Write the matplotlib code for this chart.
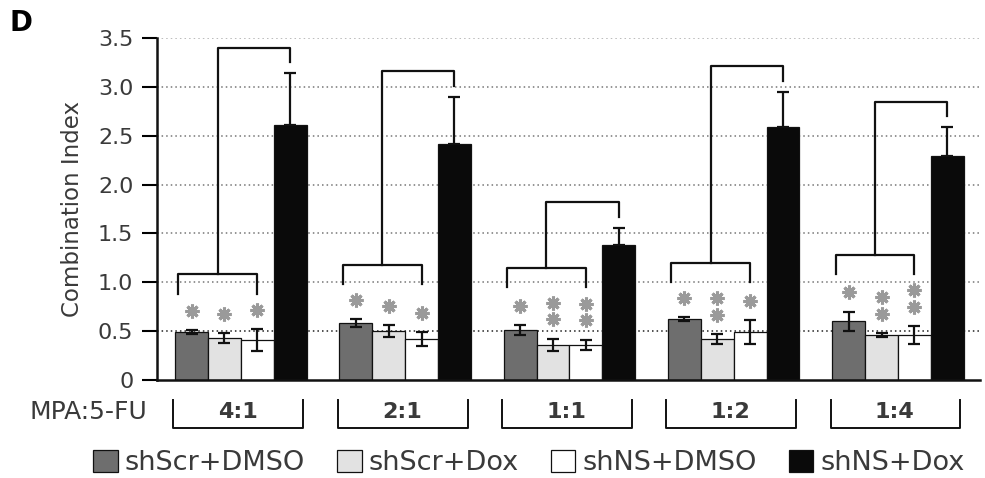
import numpy as np
import matplotlib.pyplot as plt
from matplotlib.patches import Patch

# ─────────────────────────────────────────────
# Data (Combination Index, mean ± error)
# ─────────────────────────────────────────────
ratios = ["4:1", "2:1", "1:1", "1:2", "1:4"]
series = ["shScr+DMSO", "shScr+Dox", "shNS+DMSO", "shNS+Dox"]

scr_dmso = [0.49, 0.58, 0.51, 0.62, 0.60]
scr_dmso_err = [0.02, 0.04, 0.05, 0.02, 0.10]
scr_dox = [0.43, 0.50, 0.36, 0.42, 0.46]
scr_dox_err = [0.05, 0.06, 0.06, 0.05, 0.02]
ns_dmso = [0.41, 0.42, 0.36, 0.49, 0.46]
ns_dmso_err = [0.11, 0.07, 0.05, 0.12, 0.09]
ns_dox = [2.61, 2.42, 1.38, 2.59, 2.29]
ns_dox_err = [0.53, 0.48, 0.18, 0.36, 0.30]

# number of significance stars above the three low bars of each group
stars_scr_dmso = [1, 1, 1, 1, 1]
stars_scr_dox = [1, 1, 2, 2, 2]
stars_ns_dmso = [1, 1, 2, 1, 2]

yticks = [0, 0.5, 1.0, 1.5, 2.0, 2.5, 3.0, 3.5]
ytick_labels = ["0", "0.5", "1.0", "1.5", "2.0", "2.5", "3.0", "3.5"]

colors = ["#6e6e6e", "#e2e2e2", "white", "#0a0a0a"]
txt = "#3a3a3a"

fig = plt.figure(figsize=(9.85, 4.78), dpi=100)
ax = fig.add_axes([0.1594, 0.205, 0.8356, 0.7155])

values = [scr_dmso, scr_dox, ns_dmso, ns_dox]
errors = [scr_dmso_err, scr_dox_err, ns_dmso_err, ns_dox_err]
stars = [stars_scr_dmso, stars_scr_dox, stars_ns_dmso]
groups = np.arange(len(ratios)) * 5

# grid first so it sits behind the bars
for yt in yticks[1:]:
    c = "#aaaaaa" if yt == 3.5 else ("#222222" if yt == 0.5 else "#777777")
    ax.axhline(yt, color=c, lw=1.1, ls=(0, (1, 2)), zorder=0)

for j, (vals, errs) in enumerate(zip(values, errors)):
    x = groups + j
    ax.bar(x, vals, width=1.0, color=colors[j], edgecolor="#111111",
           linewidth=0.9, zorder=2)
    if j == 3:
        yerr = [np.zeros(len(errs)), errs]
    else:
        yerr = errs
    ax.errorbar(x, vals, yerr=yerr, fmt="none", ecolor="#111111",
                elinewidth=1.6, capsize=4.5, capthick=1.6, zorder=3)

# significance stars
for j in range(3):
    for i in range(len(ratios)):
        base = values[j][i] + errors[j][i] + 0.2
        for k in range(stars[j][i]):
            ax.plot(groups[i] + j, base + 0.17 * k, marker=(8, 2, 0), ms=10,
                    mew=2.2, color="#9a9a9a", zorder=4)

# comparison brackets
for i, g in enumerate(groups):
    top_star = max(values[j][i] + errors[j][i] + 0.2 + 0.17 * (stars[j][i] - 1)
                   for j in range(3))
    low = top_star + 0.36
    high = ns_dox[i] + ns_dox_err[i] + 0.26
    lx0, lx1, mid = g - 0.4, g + 2.0, g + 0.8
    ax.plot([lx0, lx0, lx1, lx1], [low - 0.2, low, low, low - 0.2],
            color="#111111", lw=1.6, zorder=4)
    ax.plot([mid, mid, g + 3, g + 3], [low, high, high, high - 0.15],
            color="#111111", lw=1.6, zorder=4)

# MPA:5-FU ratio labels with brackets under the axis
for i, g in enumerate(groups):
    bx0, bx1 = g - 0.55, g + 3.4
    ax.plot([bx0, bx0, bx1, bx1], [-0.2, -0.49, -0.49, -0.2],
            color="#111111", lw=1.4, clip_on=False)
    ax.text(g + 1.4, -0.33, ratios[i], ha="center", va="center",
            fontsize=16, fontweight="bold", color=txt)
ax.text(-1.35, -0.33, "MPA:5-FU", ha="right", va="center", fontsize=18,
        color=txt)

ax.set_xlim(-1.05, 24.0)
ax.set_ylim(0, 3.5)
ax.set_xticks([])
ax.set_yticks(yticks)
ax.set_yticklabels(ytick_labels, fontsize=16, color=txt)
ax.tick_params(axis="y", length=11, width=1.5, pad=6, direction="out")
ax.set_ylabel("Combination Index", fontsize=16.5, color=txt, labelpad=10)
for s in ["top", "right"]:
    ax.spines[s].set_visible(False)
for s in ["left", "bottom"]:
    ax.spines[s].set_linewidth(1.8)
    ax.spines[s].set_color("#111111")

fig.text(0.021, 0.952, "D", fontsize=20, fontweight="bold", ha="center",
         va="center")

handles = [Patch(facecolor=colors[j], edgecolor="#111111", linewidth=0.9)
           for j in range(4)]
leg = fig.legend(handles, series, loc="center", bbox_to_anchor=(0.537, 0.031),
                 ncol=4, frameon=False, fontsize=19.5, handlelength=0.9,
                 handleheight=0.9, handletextpad=0.25, columnspacing=1.2,
                 borderpad=0, borderaxespad=0)
for t in leg.get_texts():
    t.set_color(txt)

fig.savefig("out.png", dpi=100)
